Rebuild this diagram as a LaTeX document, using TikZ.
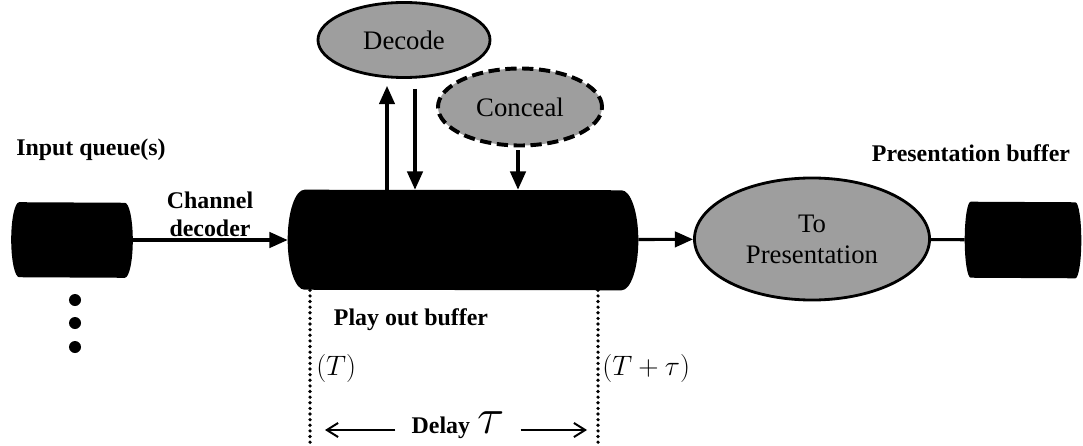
\RequirePackage{fix-cm}
\documentclass[tikz,border=0pt]{standalone}
\usepackage{fontspec}
\setmainfont{Liberation Serif}
\usetikzlibrary{positioning,shapes.geometric,arrows.meta,calc}

\begin{document}
\begin{tikzpicture}[
  x=0.025cm, y=-0.025cm,
  lbl/.style={font=\fontsize{17}{20}\selectfont\bfseries, align=center},
  buf/.style={rectangle, draw=none, inner sep=0pt},
  proc/.style={ellipse, draw=black, line width=2pt, fill=black!38, inner sep=0pt,
    font=\fontsize{19}{22}\selectfont, align=center},
  maybe/.style={proc, line width=2.8pt, dash pattern=on 8pt off 4pt},
  arr/.style={line width=2.2pt, -{Triangle[length=13pt,width=11pt]}},
  thinarr/.style={line width=1.4pt, -{Straight Barb[length=8pt,width=10pt]}},
  timeline/.style={line width=2.6pt, line cap=round, dash pattern=on 0pt off 4pt},
  qdot/.style={circle, fill=black, inner sep=0pt, minimum size=0.3cm},
  tm/.style={font=\fontsize{20}{22}\selectfont, inner sep=0pt}
]
\useasboundingbox (0,0) rectangle (1083,446);
% buffers
\node[buf, minimum width=3.025cm, minimum height=1.875cm] (inq)  at (72,240)   {};
\node[buf, minimum width=8.75cm,  minimum height=2.5cm]   (play) at (463,240)  {};
\node[buf, minimum width=2.9cm,   minimum height=1.9cm]   (pres) at (1023,240) {};
\foreach \n/\rx/\ry in {inq/0.2/0.9375, play/0.42/1.25, pres/0.15/0.95}
  \fill ([xshift=\rx cm]\n.north west) arc[start angle=90,end angle=270,x radius=\rx cm,y radius=\ry cm]
    -- ([xshift=-\rx cm]\n.south east) arc[start angle=-90,end angle=90,x radius=\rx cm,y radius=\ry cm] -- cycle;
\foreach \i/\yy in {1/300,2/323,3/347} \node[qdot] (q\i) at (75,\yy) {};
% processes
\node[proc]  (decode)  at (404,40)  [minimum width=4.3cm, minimum height=1.875cm] {Decode};
\node[maybe] (conceal) at (520,107) [minimum width=4.1cm, minimum height=1.925cm] {Conceal};
\node[proc]  (topres)  at (812,239) [minimum width=5.875cm, minimum height=3.05cm] {To\\Presentation};
% labels
\node[lbl] (inlbl)   at (91,150)  {Input queue(s)};
\node[lbl] (chlbl)   at (210,214) {Channel\\decoder};
\node[lbl] (prlbl)   at (971,153) {Presentation buffer};
\node[lbl] (pllbl)   at (411,320) {Play out buffer};
% connectors
\draw[arr] (inq) -- (play);
\draw[arr] (play) -- (topres);
\draw[line width=2.2pt] (topres) -- (pres);
\draw[arr] ($(play.north)+(-76,0)$) -- ($(decode.south)+(-17,7)$);
\draw[arr] ($(decode.south)+(11,10)$) -- ($(play.north)+(-48,0)$);
\draw[arr] ($(conceal.south)+(-2,3)$) -- ($(play.north)+(55,0)$);
% delay
\coordinate (tl) at (310,446);
\coordinate (tr) at (598,446);
\draw[timeline] (tl |- play.south) -- (tl);
\draw[timeline] (tr |- play.south) -- (tr);
\node[tm, anchor=west] (t0) at (316,368) {$(T)$};
\node[tm, anchor=west] (t1) at (602,368) {$(T+\tau)$};
\node[font=\fontsize{17}{17}\selectfont\bfseries, inner xsep=0.4cm, inner ysep=0pt] (delay) at (458,425)
  {Delay\hspace{5pt}\fontsize{36}{36}\selectfont$\tau$};
\coordinate (dla) at (325,430);
\coordinate (dlb) at (587,430);
\draw[thinarr] (delay.west |- dla) -- (dla);
\draw[thinarr] (delay.east |- dlb) -- (dlb);
\end{tikzpicture}
\end{document}
